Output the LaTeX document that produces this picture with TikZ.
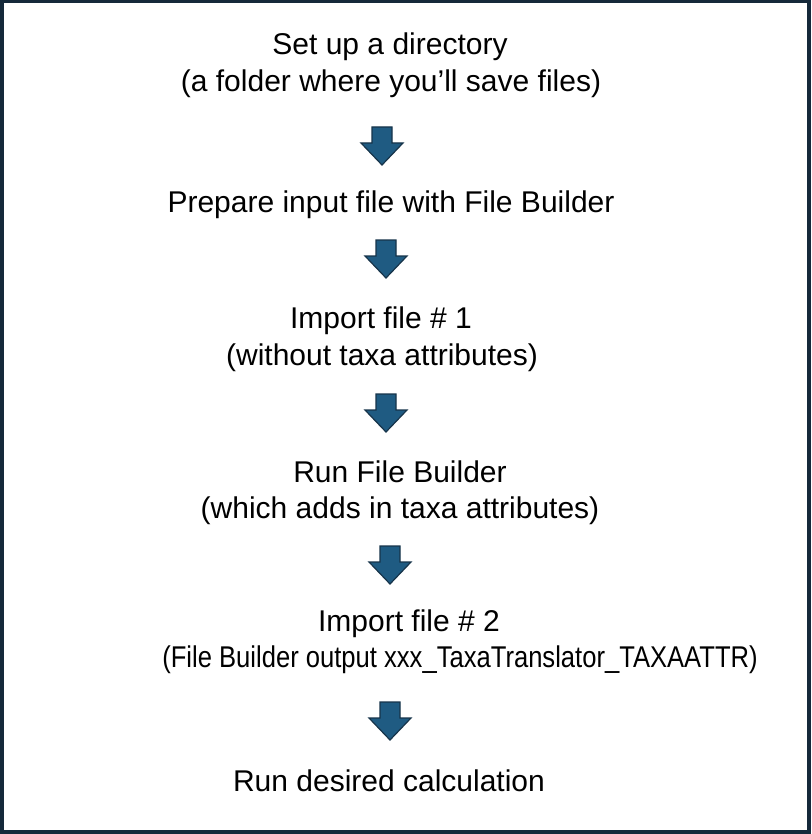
\documentclass[tikz,border=0pt]{standalone}
\usepackage{fontspec}
\setmainfont{Liberation Sans}
\definecolor{framecol}{HTML}{15293A}
\definecolor{arrowfill}{HTML}{1F5B82}
\definecolor{arrowline}{HTML}{17344A}
\tikzset{
  lbl/.style={anchor=base, inner sep=0pt, font=\fontsize{30}{37}\selectfont, text=black},
  blockarrow/.style={fill=arrowfill, draw=arrowline, line width=1.2pt, line join=miter}
}
\begin{document}
\begin{tikzpicture}[x=1pt,y=1pt]
\useasboundingbox (0,0) rectangle (811,-834);
\fill[white] (0,0) rectangle (811,-834);
\draw[framecol, line width=4pt] (1.5,-1) rectangle (809,-831.5);
% text lines
\node[lbl] (t1a) at (390,-55) {Set up a directory};
\node[lbl] (t1b) at (391,-92) {(a folder where you’ll save files)};
\node[lbl] (t2) at (391,-213) {Prepare input file with File Builder};
\node[lbl] (t3a) at (381,-328) {Import file \# 1};
\node[lbl] (t3b) at (382,-365) {(without taxa attributes)};
\node[lbl] (t4a) at (400,-482) {Run File Builder};
\node[lbl] (t4b) at (400,-518) {(which adds in taxa attributes)};
\node[lbl] (t5a) at (409,-631) {Import file \# 2};
\node[lbl] (t5b) at (460,-667) {\scalebox{0.853}[1]{(File Builder output xxx\_TaxaTranslator\_TAXAATTR)}};
\node[lbl] (t6) at (389,-791) {Run desired calculation};
% arrow tops
\coordinate (a1) at (382,-127);
\coordinate (a2) at (386,-240);
\coordinate (a3) at (386,-394);
\coordinate (a4) at (390,-546);
\coordinate (a5) at (390,-702);
\foreach \c in {a1,a2,a3,a4,a5}{
  \draw[blockarrow, shift={(\c)}] (-10,0) -- (10,0) -- (10,-16) -- (21,-16) -- (0,-38) -- (-21,-16) -- (-10,-16) -- cycle;
}
\end{tikzpicture}
\end{document}
